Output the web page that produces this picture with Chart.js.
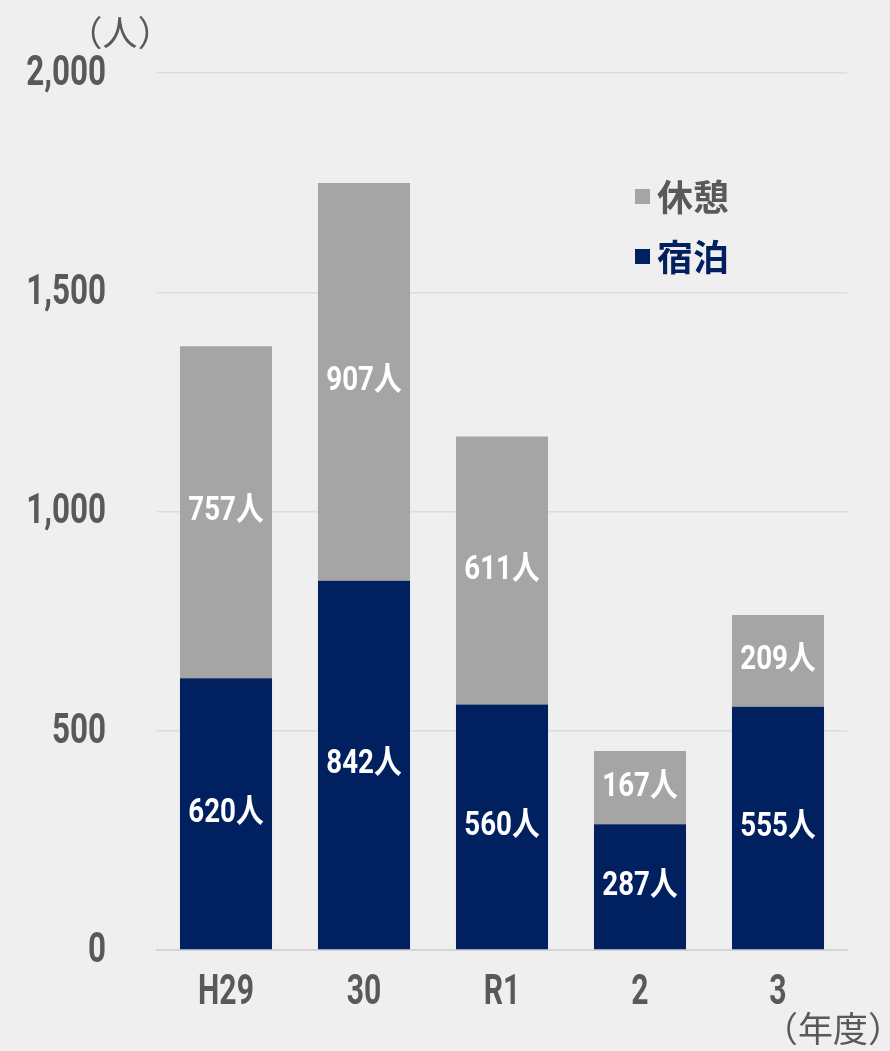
<!DOCTYPE html>
<html>
<head>
<meta charset="utf-8">
<script src="https://cdn.jsdelivr.net/npm/chart.js@4"></script>
<style>
html, body { margin: 0; padding: 0; background: #efefef; }
#wrap { width: 890px; height: 1051px; position: relative; }
</style>
</head>
<body>
<div id="wrap"><canvas id="myChart"></canvas></div>
<script>
// data
var years = ['H29', '30', 'R1', '2', '3'];
var stayData = [620, 842, 560, 287, 555];   // 宿泊
var restData = [757, 907, 611, 167, 209];   // 休憩
var yTicks = [0, 500, 1000, 1500, 2000];

var fam = "Roboto, 'Noto Sans CJK JP', sans-serif";
var cjk = "'Noto Sans CJK JP', sans-serif";
var navy = '#002060';
var grey = '#a5a5a5';
var textGrey = '#595959';

// no condensed font installed, so narrow the glyphs by hand
function narrowText(ctx, text, x, y, align, sx) {
    ctx.save();
    ctx.translate(x, y);
    ctx.scale(sx, 1);
    ctx.textAlign = align;
    ctx.fillText(text, 0, 0);
    ctx.restore();
}

// white value labels inside each segment
var valueLabels = {
    id: 'valueLabels',
    afterDatasetsDraw: function (chart) {
        var ctx = chart.ctx;
        ctx.save();
        ctx.font = 'bold 33px ' + fam;
        ctx.fillStyle = '#ffffff';
        ctx.textBaseline = 'middle';
        chart.data.datasets.forEach(function (ds, i) {
            chart.getDatasetMeta(i).data.forEach(function (bar, j) {
                narrowText(ctx, ds.data[j] + '人', bar.x, (bar.y + bar.base) / 2, 'center', 0.84);
            });
        });
        ctx.restore();
    }
};

// tick labels (condensed), legend inside the plot, unit captions
var extras = {
    id: 'extras',
    afterDraw: function (chart) {
        var ctx = chart.ctx;
        var xs = chart.scales.x, ys = chart.scales.y;
        ctx.save();
        ctx.textBaseline = 'middle';
        ctx.fillStyle = textGrey;
        ctx.font = 'bold 43px ' + fam;
        ys.ticks.forEach(function (t) {
            narrowText(ctx, t.value.toLocaleString('en-US'), 106, ys.getPixelForValue(t.value) + 1, 'right', 0.73);
        });
        chart.data.labels.forEach(function (lab, i) {
            narrowText(ctx, lab, xs.getPixelForTick(i), 993, 'center', 0.7);
        });

        // legend, top item is the upper dataset
        var items = chart.data.datasets.slice().reverse();
        items.forEach(function (ds, k) {
            var y = 197 + k * 60;
            ctx.fillStyle = ds.backgroundColor;
            ctx.fillRect(635, y - 8, 15, 15);
            ctx.fillStyle = ds.legendColor;
            ctx.font = 'bold 36px ' + cjk;
            ctx.textAlign = 'left';
            ctx.fillText(ds.label, 657, y);
        });

        ctx.fillStyle = textGrey;
        ctx.font = '35px ' + cjk;
        ctx.textAlign = 'center';
        ctx.fillText('（人）', 120, 33);
        ctx.fillText('（年度）', 833, 1029);
        ctx.restore();
    }
};

var ctx = document.getElementById('myChart').getContext('2d');
var myChart = new Chart(ctx, {
    type: 'bar',
    data: {
        labels: years,
        datasets: [{
            label: '宿泊',
            data: stayData,
            backgroundColor: navy,
            legendColor: navy,
            barPercentage: 0.667,
            categoryPercentage: 1
        }, {
            label: '休憩',
            data: restData,
            backgroundColor: grey,
            legendColor: textGrey,
            barPercentage: 0.667,
            categoryPercentage: 1
        }]
    },
    options: {
        responsive: true,
        maintainAspectRatio: false,
        animation: false,
        layout: { padding: { top: 73, right: 43, left: 0, bottom: 0 } },
        plugins: {
            legend: { display: false },
            tooltip: { enabled: false }
        },
        scales: {
            x: {
                stacked: true,
                grid: { display: false },
                border: { color: '#d4d4d4', width: 2 },
                ticks: { display: false },
                afterFit: function (scale) { scale.height = 101; }
            },
            y: {
                stacked: true,
                min: 0,
                max: 2000,
                afterBuildTicks: function (scale) {
                    scale.ticks = yTicks.map(function (v) { return { value: v }; });
                },
                grid: { color: '#dcdcdc', lineWidth: 1.5, drawTicks: false },
                border: { display: false },
                ticks: { display: false },
                afterFit: function (scale) { scale.width = 157; }
            }
        }
    },
    plugins: [valueLabels, extras]
});
</script>
</body>
</html>
